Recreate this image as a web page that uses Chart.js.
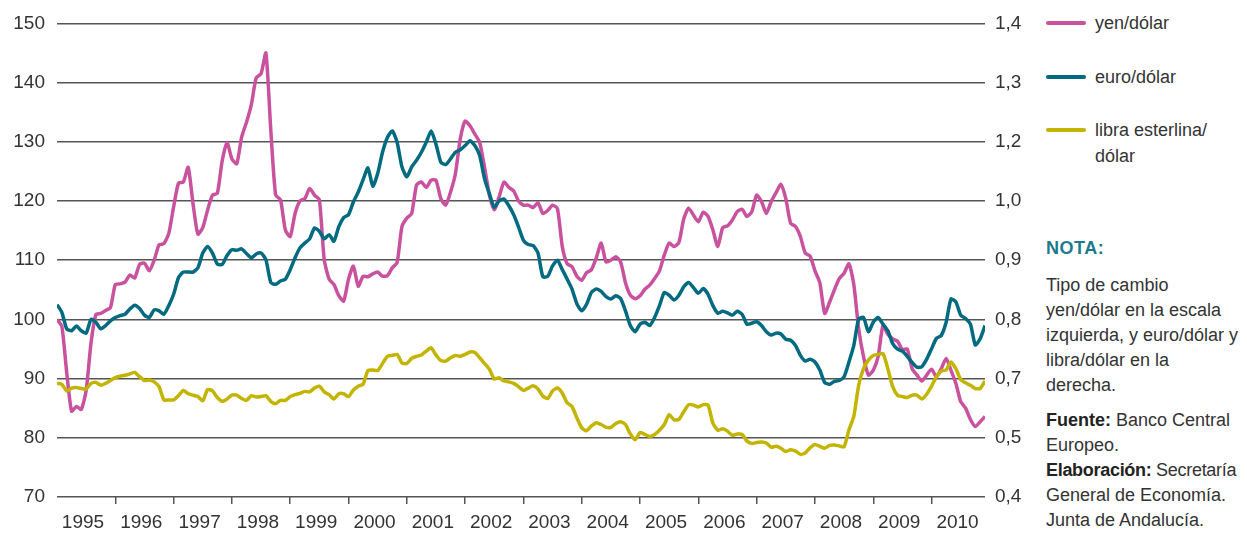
<!DOCTYPE html>
<html lang="es">
<head>
<meta charset="utf-8">
<title>Tipos de cambio frente al dólar</title>
<script src="https://cdn.jsdelivr.net/npm/chart.js@4/dist/chart.umd.min.js"></script>
<style>
  html, body { margin: 0; padding: 0; background: #fff; }
  body { width: 1247px; height: 536px; position: relative; overflow: hidden;
         font-family: "Liberation Sans", Arial, sans-serif; color: #333; }
  #chart-wrap { position: absolute; left: 0; top: 0; width: 1030px; height: 536px; }
  .side { position: absolute; left: 1046px; }
  .leg { position: absolute; left: 0; width: 200px; font-size: 18px; line-height: 26px; }
  .leg .sw { position: absolute; left: 0; top: 11px; width: 40px; height: 4px; border-radius: 2px; }
  .leg .tx { margin-left: 49px; }
  .nota { position: absolute; left: 0; top: 238px; font-size: 18px; font-weight: bold; color: #1b7a8e; letter-spacing: 0.5px; }
  .note { position: absolute; left: 0; font-size: 18px; line-height: 25px; color: #333; white-space: nowrap; }
  .note b { color: #222; }
  .tight { letter-spacing: -0.3px; }
</style>
</head>
<body>
<div id="chart-wrap"><canvas id="fxChart"></canvas></div>

<div class="side" style="top:0">
  <div class="leg" style="top:10px"><span class="sw" style="background:#c9529f"></span><div class="tx">yen/dólar</div></div>
  <div class="leg" style="top:64px"><span class="sw" style="background:#006a80"></span><div class="tx">euro/dólar</div></div>
  <div class="leg" style="top:117px"><span class="sw" style="background:#c2b400"></span><div class="tx">libra esterlina/<br>dólar</div></div>
  <div class="nota">NOTA:</div>
  <div class="note" style="top:273px">Tipo de cambio<br>yen/dólar en la escala<br>izquierda, y euro/dólar y<br>libra/dólar en la<br>derecha.</div>
  <div class="note" style="top:408px"><b>Fuente:</b> Banco Central<br>Europeo.<br><span class="tight"><b>Elaboración:</b> Secretaría</span><br>General de Economía.<br>Junta de Andalucía.</div>
</div>

<script>
// monthly series, January 1995 - December 2010
const startYear = 1995;
const years = [1995, 1996, 1997, 1998, 1999, 2000, 2001, 2002, 2003, 2004, 2005, 2006, 2007, 2008, 2009, 2010];

// yen per dollar (left scale)
const yenDolar = [
  100.0, 98.8, 91.0, 84.5, 85.3, 84.8, 88.0, 96.0, 100.8, 101.0, 101.5, 102.0,
  105.9, 106.0, 106.3, 107.5, 107.0, 109.3, 109.5, 108.2, 110.0, 112.6, 112.8, 114.5,
  119.0, 123.0, 123.2, 125.7, 119.5, 114.4, 115.5, 118.5, 121.0, 121.3, 126.8, 129.9,
  127.1, 126.3, 130.8, 133.3, 136.3, 140.8, 141.5, 145.0, 132.0, 121.0, 120.2, 115.1,
  114.0, 117.9, 120.0, 120.4, 122.1, 121.0, 120.2, 110.1, 106.8, 105.9, 104.0, 103.1,
  106.8, 109.0, 105.6, 107.3, 107.2, 107.7, 108.0, 107.3, 107.4, 108.7, 109.6, 115.7,
  117.1, 117.9, 122.7, 123.2, 122.3, 123.5, 123.5, 120.4, 119.3, 121.5, 124.6, 130.5,
  133.5, 132.7, 131.3, 129.9, 125.7, 121.0, 118.5, 120.7, 123.2, 122.3, 121.7, 120.0,
  119.3, 119.3, 118.9, 119.7, 117.9, 118.4, 119.3, 118.7, 112.3, 109.4, 108.9, 107.3,
  106.6, 107.9, 108.4, 110.4, 112.9, 109.7, 110.0, 110.6, 109.7, 106.2, 104.1, 103.5,
  104.0, 105.1, 105.8, 106.9, 108.2, 110.9, 112.9, 112.3, 113.0, 117.0, 118.8, 117.6,
  116.5, 118.1, 117.4, 115.1, 112.3, 115.5, 115.8, 116.8, 118.2, 118.6, 117.4, 118.2,
  121.0, 119.9, 117.9, 119.9, 121.4, 122.8, 120.4, 116.2, 115.7, 114.0, 111.2, 110.7,
  108.2, 106.2, 101.0, 102.9, 105.0, 106.9, 107.8, 109.4, 105.9, 98.4, 93.7, 90.6,
  91.4, 93.7, 99.0, 97.5, 96.7, 96.3, 94.9, 95.0, 91.7, 90.6, 89.6, 90.6,
  91.6, 90.3, 91.7, 93.4, 91.4, 89.2, 86.1, 85.0, 83.1, 81.9, 82.7, 83.6
];

// euro per dollar (right scale)
const euroDolar = [
  0.806, 0.790, 0.755, 0.751, 0.761, 0.751, 0.746, 0.775, 0.769, 0.755, 0.762, 0.772,
  0.779, 0.783, 0.786, 0.797, 0.805, 0.798, 0.784, 0.779, 0.795, 0.793, 0.786, 0.804,
  0.828, 0.863, 0.875, 0.875, 0.875, 0.884, 0.915, 0.929, 0.915, 0.892, 0.891, 0.910,
  0.922, 0.921, 0.924, 0.914, 0.905, 0.913, 0.915, 0.901, 0.853, 0.849, 0.856, 0.860,
  0.880, 0.905, 0.926, 0.936, 0.945, 0.968, 0.961, 0.945, 0.954, 0.940, 0.971, 0.990,
  0.996, 1.023, 1.044, 1.070, 1.095, 1.056, 1.083, 1.128, 1.159, 1.173, 1.149, 1.097,
  1.076, 1.097, 1.111, 1.128, 1.149, 1.173, 1.145, 1.107, 1.102, 1.114, 1.128, 1.133,
  1.142, 1.152, 1.142, 1.121, 1.072, 1.040, 1.012, 1.025, 1.029, 1.015, 0.996, 0.970,
  0.942, 0.933, 0.931, 0.915, 0.865, 0.866, 0.888, 0.900, 0.880, 0.860, 0.839, 0.808,
  0.793, 0.807, 0.832, 0.839, 0.834, 0.823, 0.818, 0.825, 0.819, 0.793, 0.762, 0.749,
  0.765, 0.769, 0.762, 0.779, 0.804, 0.832, 0.826, 0.816, 0.826, 0.844, 0.853, 0.842,
  0.830, 0.840, 0.828, 0.804, 0.788, 0.792, 0.789, 0.784, 0.792, 0.786, 0.765, 0.767,
  0.770, 0.762, 0.749, 0.742, 0.746, 0.744, 0.733, 0.731, 0.720, 0.699, 0.687, 0.691,
  0.685, 0.668, 0.642, 0.638, 0.644, 0.646, 0.654, 0.685, 0.720, 0.776, 0.779, 0.749,
  0.769, 0.779, 0.765, 0.751, 0.724, 0.712, 0.708, 0.697, 0.684, 0.674, 0.675, 0.691,
  0.713, 0.735, 0.741, 0.769, 0.818, 0.812, 0.784, 0.777, 0.765, 0.721, 0.734, 0.762
];

// pound sterling per dollar (right scale)
const libraDolar = [
  0.640, 0.638, 0.624, 0.630, 0.631, 0.629, 0.628, 0.640, 0.642, 0.636, 0.640, 0.646,
  0.652, 0.655, 0.657, 0.660, 0.663, 0.654, 0.646, 0.647, 0.643, 0.633, 0.605, 0.605,
  0.605, 0.614, 0.625, 0.618, 0.615, 0.612, 0.603, 0.627, 0.624, 0.610, 0.602, 0.607,
  0.615, 0.615, 0.608, 0.604, 0.614, 0.611, 0.612, 0.614, 0.602, 0.597, 0.604, 0.604,
  0.612, 0.616, 0.619, 0.623, 0.622, 0.630, 0.634, 0.622, 0.616, 0.607, 0.618, 0.618,
  0.612, 0.626, 0.634, 0.638, 0.667, 0.668, 0.667, 0.682, 0.697, 0.699, 0.701, 0.683,
  0.682, 0.693, 0.697, 0.700, 0.708, 0.715, 0.700, 0.688, 0.687, 0.694, 0.699, 0.697,
  0.701, 0.706, 0.705, 0.694, 0.682, 0.670, 0.649, 0.652, 0.645, 0.643, 0.640, 0.633,
  0.625, 0.630, 0.635, 0.628, 0.613, 0.608, 0.624, 0.630, 0.619, 0.599, 0.591, 0.567,
  0.546, 0.540, 0.550, 0.557, 0.553, 0.547, 0.547, 0.555, 0.559, 0.553, 0.533, 0.521,
  0.536, 0.532, 0.528, 0.532, 0.541, 0.553, 0.574, 0.563, 0.564, 0.580, 0.595, 0.594,
  0.590, 0.595, 0.594, 0.556, 0.541, 0.544, 0.539, 0.530, 0.533, 0.532, 0.518, 0.513,
  0.515, 0.516, 0.514, 0.505, 0.507, 0.503, 0.496, 0.500, 0.497, 0.490, 0.493, 0.504,
  0.511, 0.507, 0.503, 0.509, 0.510, 0.508, 0.506, 0.542, 0.570, 0.636, 0.671, 0.689,
  0.699, 0.701, 0.703, 0.671, 0.633, 0.615, 0.612, 0.610, 0.615, 0.615, 0.607, 0.617,
  0.634, 0.654, 0.666, 0.668, 0.685, 0.671, 0.648, 0.641, 0.636, 0.629, 0.629, 0.645
];

// right axis labels as printed on the original
const rightTickLabels = ["0,4", "0,5", "0,7", "0,8", "0,9", "1,0", "1,2", "1,3", "1,4"];

const tickFont = { family: "'Liberation Sans', Arial, sans-serif", size: 19 };
const tickColor = "#333";
const gridColor = "#555";

function toPoints(values) {
  return values.map((v, i) => ({ x: startYear + i / 12, y: v }));
}

function lineDataset(label, values, color, axis) {
  return {
    label: label,
    data: toPoints(values),
    yAxisID: axis,
    borderColor: color,
    backgroundColor: color,
    borderWidth: 3.5,
    pointRadius: 0,
    tension: 0.2,
    fill: false
  };
}

const ctx = document.getElementById("fxChart").getContext("2d");

new Chart(ctx, {
  type: "line",
  data: {
    datasets: [
      lineDataset("libra esterlina/dólar", libraDolar, "#c2b400", "y2"),
      lineDataset("euro/dólar", euroDolar, "#006a80", "y2"),
      lineDataset("yen/dólar", yenDolar, "#c9529f", "y")
    ]
  },
  options: {
    responsive: true,
    maintainAspectRatio: false,
    animation: false,
    layout: { padding: { top: 20, left: 0, right: 0, bottom: 0 } },
    plugins: {
      legend: { display: false },
      tooltip: { enabled: false }
    },
    scales: {
      x: {
        type: "linear",
        min: startYear,
        max: startYear + (yenDolar.length - 1) / 12,
        afterBuildTicks: (scale) => {
          scale.ticks = years.map((v) => ({ value: v }));
        },
        afterFit: (scale) => { scale.height = 39; },
        ticks: {
          callback: (value) => String(value),
          labelOffset: 26,
          padding: 7,
          autoSkip: false,
          maxRotation: 0,
          font: tickFont,
          color: tickColor
        },
        grid: {
          drawOnChartArea: false,
          tickLength: 7,
          lineWidth: 1.5,
          color: (c) => (c.index === 0 ? "rgba(0,0,0,0)" : gridColor)
        },
        border: { display: false }
      },
      y: {
        position: "left",
        min: 70,
        max: 150,
        afterFit: (scale) => { scale.width = 57; },
        ticks: { stepSize: 10, padding: 12, font: tickFont, color: tickColor },
        grid: { color: gridColor, lineWidth: 1.5, drawTicks: false },
        border: { display: false }
      },
      y2: {
        position: "right",
        min: 0.4,
        max: 1.4,
        afterBuildTicks: (scale) => {
          scale.ticks = rightTickLabels.map((label, k) => ({ value: 0.4 + k * 0.125 }));
        },
        afterFit: (scale) => { scale.width = 45; },
        ticks: {
          callback: (value, index) => rightTickLabels[index],
          padding: 10,
          font: tickFont,
          color: tickColor
        },
        grid: { drawOnChartArea: false, drawTicks: false },
        border: { display: false }
      }
    }
  }
});
</script>
</body>
</html>
